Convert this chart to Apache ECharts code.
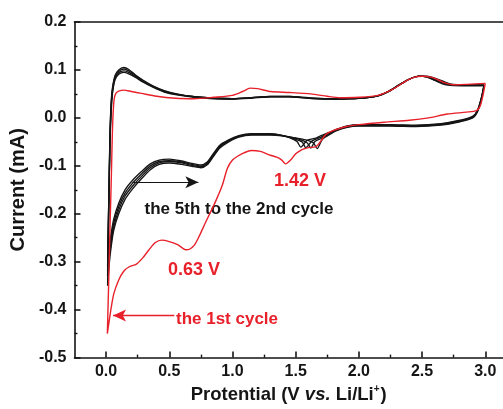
<!DOCTYPE html>
<html>
<head>
<meta charset="utf-8">
<script src="https://cdn.jsdelivr.net/npm/echarts@6/dist/echarts.min.js"></script>
<style>
  html, body { margin: 0; padding: 0; background: #fff; }
  #chart { width: 503px; height: 409px; }
</style>
</head>
<body>
<div id="chart"></div>
<script>
// Cyclic voltammograms, [potential (V vs. Li/Li+), current (mA)]
// 1st cycle: cathodic sweep from 3.0 V down to 0.01 V, then anodic sweep back
const cycle1 = [
  [3.00, 0.072], [2.98, 0.045], [2.96, 0.025], [2.93, 0.015], [2.85, 0.012], [2.70, 0.008],
  [2.55, 0.000], [2.40, -0.005], [2.20, -0.009], [2.00, -0.014], [1.90, -0.018], [1.80, -0.026],
  [1.74, -0.034], [1.70, -0.048], [1.66, -0.060], [1.60, -0.062], [1.55, -0.066], [1.50, -0.075],
  [1.46, -0.088], [1.42, -0.096], [1.39, -0.088], [1.35, -0.082], [1.30, -0.078], [1.22, -0.070],
  [1.15, -0.068], [1.09, -0.073], [1.04, -0.080], [1.00, -0.088], [0.96, -0.105], [0.92, -0.140],
  [0.87, -0.172], [0.82, -0.200], [0.78, -0.222], [0.74, -0.245], [0.70, -0.265], [0.66, -0.274],
  [0.63, -0.275], [0.57, -0.265], [0.50, -0.258], [0.44, -0.255], [0.39, -0.260], [0.34, -0.275],
  [0.29, -0.292], [0.24, -0.305], [0.18, -0.311], [0.14, -0.320], [0.10, -0.338], [0.06, -0.368],
  [0.035, -0.405], [0.02, -0.432], [0.01, -0.450],
  [0.015, -0.40], [0.022, -0.33], [0.032, -0.22], [0.042, -0.12], [0.050, -0.03], [0.058, 0.020],
  [0.066, 0.042], [0.080, 0.052], [0.10, 0.056], [0.14, 0.058], [0.20, 0.055], [0.28, 0.051],
  [0.40, 0.045], [0.55, 0.041], [0.70, 0.040], [0.85, 0.043], [1.00, 0.047], [1.08, 0.055],
  [1.14, 0.062], [1.20, 0.061], [1.30, 0.055], [1.45, 0.053], [1.62, 0.050], [1.75, 0.045],
  [1.85, 0.042], [2.00, 0.043], [2.15, 0.047], [2.27, 0.060], [2.36, 0.075], [2.43, 0.084],
  [2.50, 0.087], [2.57, 0.085], [2.63, 0.079], [2.68, 0.073], [2.75, 0.069], [2.85, 0.070],
  [3.00, 0.072]
];

const cycle2 = [
  [2.99, 0.067], [2.97, 0.040], [2.94, 0.014], [2.90, 0.000], [2.80, -0.008], [2.65, -0.015],
  [2.45, -0.018], [2.25, -0.017], [2.00, -0.017], [1.90, -0.020], [1.82, -0.027], [1.76, -0.036],
  [1.71, -0.045], [1.67, -0.064], [1.64, -0.052], [1.58, -0.046], [1.50, -0.042], [1.40, -0.038],
  [1.30, -0.036], [1.15, -0.036], [1.05, -0.040], [0.97, -0.050], [0.90, -0.063], [0.85, -0.080],
  [0.80, -0.098], [0.75, -0.104], [0.68, -0.101], [0.60, -0.097], [0.50, -0.094], [0.42, -0.097],
  [0.35, -0.108], [0.28, -0.127], [0.21, -0.148], [0.15, -0.170], [0.10, -0.200], [0.06, -0.235],
  [0.035, -0.280], [0.02, -0.320], [0.012, -0.350],
  [0.015, -0.30], [0.020, -0.22], [0.025, -0.12], [0.032, -0.02], [0.045, 0.050], [0.07, 0.088],
  [0.10, 0.100], [0.14, 0.105], [0.18, 0.101], [0.23, 0.090], [0.29, 0.079], [0.37, 0.067],
  [0.46, 0.057], [0.56, 0.050], [0.70, 0.044], [0.85, 0.041], [1.00, 0.040], [1.15, 0.042],
  [1.30, 0.045], [1.45, 0.045], [1.60, 0.042], [1.75, 0.040], [1.90, 0.040], [2.05, 0.042],
  [2.15, 0.046], [2.24, 0.056], [2.32, 0.069], [2.40, 0.081], [2.48, 0.087], [2.54, 0.085],
  [2.60, 0.078], [2.66, 0.071], [2.72, 0.068], [2.85, 0.067], [2.99, 0.067]
];

const cycle3 = [
  [2.99, 0.068], [2.97, 0.041], [2.94, 0.015], [2.90, 0.001], [2.80, -0.007], [2.65, -0.014],
  [2.45, -0.017], [2.25, -0.016], [2.00, -0.016], [1.90, -0.019], [1.82, -0.026], [1.76, -0.034],
  [1.70, -0.043], [1.65, -0.050], [1.62, -0.063], [1.59, -0.052], [1.52, -0.044], [1.42, -0.038],
  [1.30, -0.035], [1.15, -0.035], [1.05, -0.039], [0.97, -0.048], [0.90, -0.061], [0.85, -0.078],
  [0.80, -0.096], [0.75, -0.102], [0.68, -0.099], [0.60, -0.094], [0.50, -0.091], [0.42, -0.094],
  [0.35, -0.104], [0.28, -0.122], [0.21, -0.142], [0.15, -0.163], [0.10, -0.192], [0.06, -0.228],
  [0.035, -0.270], [0.02, -0.300], [0.012, -0.330],
  [0.015, -0.28], [0.020, -0.20], [0.026, -0.11], [0.033, -0.02], [0.046, 0.048], [0.07, 0.085],
  [0.10, 0.097], [0.14, 0.102], [0.18, 0.098], [0.23, 0.089], [0.29, 0.078], [0.37, 0.066],
  [0.46, 0.056], [0.56, 0.049], [0.70, 0.044], [0.85, 0.041], [1.00, 0.040], [1.15, 0.042],
  [1.30, 0.045], [1.45, 0.045], [1.60, 0.041], [1.75, 0.040], [1.90, 0.040], [2.05, 0.042],
  [2.15, 0.046], [2.24, 0.056], [2.32, 0.069], [2.40, 0.081], [2.48, 0.087], [2.54, 0.085],
  [2.60, 0.079], [2.66, 0.073], [2.72, 0.069], [2.85, 0.068], [2.99, 0.068]
];

const cycle4 = [
  [2.99, 0.068], [2.97, 0.042], [2.94, 0.016], [2.90, 0.002], [2.80, -0.006], [2.65, -0.013],
  [2.45, -0.016], [2.25, -0.015], [2.00, -0.015], [1.90, -0.018], [1.82, -0.025], [1.76, -0.032],
  [1.70, -0.040], [1.63, -0.048], [1.58, -0.062], [1.55, -0.050], [1.48, -0.043], [1.40, -0.037],
  [1.30, -0.034], [1.15, -0.034], [1.05, -0.038], [0.97, -0.047], [0.90, -0.059], [0.85, -0.076],
  [0.80, -0.094], [0.75, -0.100], [0.68, -0.097], [0.60, -0.092], [0.50, -0.089], [0.42, -0.091],
  [0.35, -0.100], [0.28, -0.117], [0.21, -0.136], [0.15, -0.157], [0.10, -0.185], [0.06, -0.220],
  [0.035, -0.260], [0.02, -0.290], [0.012, -0.320],
  [0.015, -0.27], [0.020, -0.19], [0.027, -0.10], [0.034, -0.02], [0.047, 0.046], [0.07, 0.082],
  [0.10, 0.094], [0.14, 0.098], [0.18, 0.095], [0.23, 0.087], [0.29, 0.077], [0.37, 0.065],
  [0.46, 0.055], [0.56, 0.049], [0.70, 0.044], [0.85, 0.041], [1.00, 0.040], [1.15, 0.042],
  [1.30, 0.044], [1.45, 0.044], [1.60, 0.041], [1.75, 0.039], [1.90, 0.040], [2.05, 0.042],
  [2.15, 0.046], [2.24, 0.056], [2.32, 0.069], [2.40, 0.081], [2.48, 0.087], [2.54, 0.086],
  [2.60, 0.081], [2.66, 0.075], [2.72, 0.070], [2.85, 0.068], [2.99, 0.068]
];

const cycle5 = [
  [2.99, 0.069], [2.97, 0.043], [2.94, 0.017], [2.90, 0.003], [2.80, -0.005], [2.65, -0.012],
  [2.45, -0.015], [2.25, -0.014], [2.00, -0.014], [1.90, -0.017], [1.82, -0.024], [1.76, -0.031],
  [1.70, -0.037], [1.66, -0.042], [1.59, -0.047], [1.54, -0.061], [1.51, -0.049], [1.45, -0.041],
  [1.38, -0.036], [1.30, -0.033], [1.15, -0.033], [1.05, -0.037], [0.97, -0.046], [0.90, -0.057],
  [0.85, -0.074], [0.80, -0.092], [0.75, -0.098], [0.68, -0.095], [0.60, -0.090], [0.50, -0.086],
  [0.42, -0.088], [0.35, -0.096], [0.28, -0.112], [0.21, -0.130], [0.15, -0.150], [0.10, -0.178],
  [0.06, -0.212], [0.035, -0.250], [0.02, -0.280], [0.012, -0.310],
  [0.015, -0.26], [0.021, -0.18], [0.028, -0.09], [0.035, -0.02], [0.048, 0.044], [0.07, 0.079],
  [0.10, 0.091], [0.14, 0.095], [0.18, 0.092], [0.23, 0.085], [0.29, 0.075], [0.37, 0.064],
  [0.46, 0.054], [0.56, 0.048], [0.70, 0.043], [0.85, 0.040], [1.00, 0.039], [1.15, 0.041],
  [1.30, 0.044], [1.45, 0.044], [1.60, 0.041], [1.75, 0.039], [1.90, 0.040], [2.05, 0.042],
  [2.15, 0.046], [2.24, 0.056], [2.32, 0.069], [2.40, 0.081], [2.48, 0.087], [2.54, 0.087],
  [2.60, 0.083], [2.66, 0.077], [2.72, 0.071], [2.85, 0.069], [2.99, 0.069]
];

// Axis ranges and tick positions
const xRange = [-0.25, 3.14];
const yRange = [-0.5, 0.2];
const xMajorTicks = [0.0, 0.5, 1.0, 1.5, 2.0, 2.5, 3.0];
const xMinorTicks = [0.25, 0.75, 1.25, 1.75, 2.25, 2.75];

// Annotation arrows, in data coordinates [start, end]
const laterCyclesArrow = [[0.21, -0.134], [0.73, -0.134]];
const firstCycleArrow = [[0.54, -0.412], [0.055, -0.412]];

const RED = '#e8202a';
const BLACK = '#151515';
const FONT = '"Liberation Sans", Arial, Helvetica, sans-serif';

const chart = echarts.init(document.getElementById('chart'), null, { renderer: 'canvas' });

function cvSeries(name, data, color, width) {
  return {
    name: name,
    type: 'line',
    data: data,
    xAxisIndex: 0,
    showSymbol: false,
    symbol: 'none',
    smooth: 0.25,
    lineStyle: { color: color, width: width },
    z: color === RED ? 4 : 3,
    animation: false
  };
}

const fmt = v => (Math.abs(v) < 1e-9 ? 0 : v).toFixed(1);

const option = {
  animation: false,
  backgroundColor: '#fff',
  grid: { left: 73, right: 0, top: 22, bottom: 46, containLabel: false },
  xAxis: [
    {
      type: 'value', min: xRange[0], max: xRange[1], position: 'bottom',
      axisLine: { show: true, onZero: false, lineStyle: { color: BLACK, width: 1.6 } },
      axisTick: { show: true, inside: true, length: 6, customValues: xMajorTicks, lineStyle: { color: BLACK, width: 1.6 } },
      axisLabel: {
        show: true, customValues: xMajorTicks, formatter: fmt, margin: 6,
        color: BLACK, fontFamily: FONT, fontWeight: 'bold', fontSize: 16
      },
      splitLine: { show: false },
      name: '{t|Protential (V }{i|vs.}{t| Li/Li}{s|+}{t|)}',
      nameLocation: 'middle',
      nameGap: 20,
      nameTextStyle: {
        rich: {
          t: { fontFamily: FONT, fontWeight: 'bold', fontSize: 18.5, color: BLACK },
          i: { fontFamily: FONT, fontWeight: 'bold', fontStyle: 'italic', fontSize: 18.5, color: BLACK },
          s: { fontFamily: FONT, fontWeight: 'bold', fontSize: 10, color: BLACK, padding: [0, 1, 10, 0] }
        }
      }
    },
    {
      type: 'value', min: xRange[0], max: xRange[1], position: 'bottom',
      axisLine: { show: false, onZero: false },
      axisTick: { show: true, inside: true, length: 3, customValues: xMinorTicks, lineStyle: { color: BLACK, width: 1.4 } },
      axisLabel: { show: false },
      splitLine: { show: false }
    },
    {
      type: 'value', min: xRange[0], max: xRange[1], position: 'top',
      axisLine: { show: true, onZero: false, lineStyle: { color: BLACK, width: 1.6 } },
      axisTick: { show: false },
      axisLabel: { show: false },
      splitLine: { show: false }
    }
  ],
  yAxis: {
    type: 'value', min: yRange[0], max: yRange[1], interval: 0.1,
    axisLine: { show: true, onZero: false, lineStyle: { color: BLACK, width: 1.6 } },
    axisTick: { show: true, inside: true, length: 6, lineStyle: { color: BLACK, width: 1.6 } },
    minorTick: { show: true, splitNumber: 2, length: 3, lineStyle: { color: BLACK, width: 1.4 } },
    axisLabel: { formatter: fmt, margin: 8, color: BLACK, fontFamily: FONT, fontWeight: 'bold', fontSize: 16 },
    splitLine: { show: false },
    name: 'Current (mA)',
    nameLocation: 'middle',
    nameGap: 36,
    nameTextStyle: { fontFamily: FONT, fontWeight: 'bold', fontSize: 20, color: BLACK }
  },
  series: [
    cvSeries('5th cycle', cycle5, BLACK, 1.35),
    cvSeries('4th cycle', cycle4, BLACK, 1.35),
    cvSeries('3rd cycle', cycle3, BLACK, 1.35),
    cvSeries('2nd cycle', cycle2, BLACK, 1.35),
    cvSeries('1st cycle', cycle1, RED, 1.4),
    {
      type: 'line', data: [], xAxisIndex: 0, silent: true,
      markLine: {
        silent: true, animation: false,
        symbol: ['none', 'arrow'], symbolSize: [9, 13],
        label: { show: false },
        data: [
          [{ coord: laterCyclesArrow[0], lineStyle: { color: BLACK, width: 1.2, type: 'solid' }, itemStyle: { color: BLACK } },
           { coord: laterCyclesArrow[1] }],
          [{ coord: firstCycleArrow[0], lineStyle: { color: RED, width: 1.4, type: 'solid' }, itemStyle: { color: RED } },
           { coord: firstCycleArrow[1] }]
        ]
      }
    }
  ],
  graphic: [
    { type: 'text', x: 300, y: 181, style: { text: '1.42 V', fill: RED, font: 'bold 18px ' + FONT, align: 'center', verticalAlign: 'middle' } },
    { type: 'text', x: 194, y: 270, style: { text: '0.63 V', fill: RED, font: 'bold 18px ' + FONT, align: 'center', verticalAlign: 'middle' } },
    { type: 'text', x: 239, y: 209, style: { text: 'the 5th to the 2nd cycle', fill: BLACK, font: 'bold 17px ' + FONT, align: 'center', verticalAlign: 'middle' } },
    { type: 'text', x: 227, y: 319, style: { text: 'the 1st cycle', fill: RED, font: 'bold 17px ' + FONT, align: 'center', verticalAlign: 'middle' } }
  ]
};

chart.setOption(option);
</script>
</body>
</html>
